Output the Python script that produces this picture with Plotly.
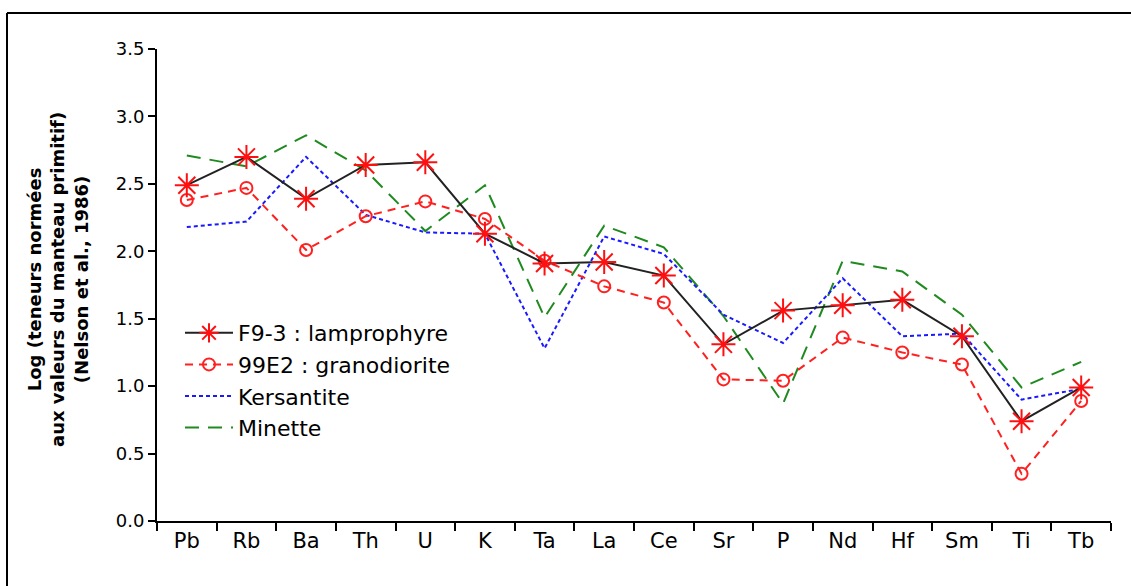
import plotly.graph_objects as go

elements = ["Pb", "Rb", "Ba", "Th", "U", "K", "Ta", "La", "Ce", "Sr", "P", "Nd", "Hf", "Sm", "Ti", "Tb"]

f93_lamprophyre = [2.49, 2.70, 2.39, 2.64, 2.66, 2.13, 1.91, 1.92, 1.82, 1.31, 1.56, 1.60, 1.64, 1.37, 0.74, 0.99]
e99_granodiorite = [2.38, 2.47, 2.01, 2.26, 2.37, 2.24, 1.93, 1.74, 1.62, 1.05, 1.04, 1.36, 1.25, 1.16, 0.35, 0.89]
kersantite = [2.18, 2.22, 2.70, 2.27, 2.14, 2.13, 1.28, 2.11, 1.98, 1.53, 1.32, 1.80, 1.37, 1.39, 0.90, 0.98]
minette = [2.71, 2.63, 2.86, 2.60, 2.15, 2.49, 1.51, 2.19, 2.03, 1.52, 0.87, 1.93, 1.85, 1.53, 0.99, 1.18]

y_ticks = [0.0, 0.5, 1.0, 1.5, 2.0, 2.5, 3.0, 3.5]

TXT_FONT = "DejaVu Sans, sans-serif"
NUM_FONT = "DejaVu Sans, sans-serif"

fig = go.Figure()

fig.add_trace(go.Scatter(
    x=elements, y=minette, name="Minette", mode="lines", legendgroup="d", legendrank=4,
    line=dict(color="#1f8a1f", width=2, dash="14px,9px"),
))
fig.add_trace(go.Scatter(
    x=elements, y=kersantite, name="Kersantite", mode="lines", legendgroup="c", legendrank=3,
    line=dict(color="#1a1aff", width=2, dash="4px,3px"),
))
fig.add_trace(go.Scatter(
    x=elements, y=e99_granodiorite, name="99E2 : granodiorite", mode="lines+markers",
    legendgroup="b", legendrank=2,
    line=dict(color="#ff2020", width=2, dash="8px,6px"),
    marker=dict(symbol="circle-open", size=12, color="#ff2020", line=dict(width=2)),
))
fig.add_trace(go.Scatter(
    x=elements, y=f93_lamprophyre, name="F9-3 : lamprophyre", mode="lines+markers",
    legendgroup="a", legendrank=1,
    line=dict(color="#222222", width=2),
    marker=dict(symbol="asterisk-open", size=20, color="#ff1010", line=dict(width=2, color="#ff1010")),
))

W, H = 1131, 586
L, R, T, B = 157, 20, 49, 65
pw, ph = W - L - R, H - T - B

def px_x(p):
    return (p - L) / pw

def px_y(p):
    return (H - B - p) / ph

fig.update_layout(
    width=W, height=H,
    margin=dict(l=L, r=R, t=T, b=B),
    paper_bgcolor="white", plot_bgcolor="white",
    showlegend=True,
    legend=dict(
        x=px_x(180), y=px_y(312), xanchor="left", yanchor="top",
        traceorder="grouped",
        font=dict(family=TXT_FONT, size=22, color="black"),
        bgcolor="rgba(255,255,255,0)", borderwidth=0,
        itemwidth=48, tracegroupgap=0,
    ),
    xaxis=dict(
        type="category", range=[-0.5, 15.5],
        showline=True, linecolor="black", linewidth=2,
        ticks="outside", tickson="boundaries", ticklen=8, tickwidth=2, tickcolor="black",
        showgrid=False, zeroline=False,
        tickfont=dict(family=TXT_FONT, size=21, color="black"),
    ),
    yaxis=dict(
        range=[0, 3.5],
        tickvals=y_ticks, tickformat=".1f",
        showline=True, linecolor="black", linewidth=2,
        ticks="outside", ticklen=7, tickwidth=2, tickcolor="black",
        showgrid=False, zeroline=False,
        tickfont=dict(family=NUM_FONT, size=18, color="black"),
    ),
    annotations=[dict(
        text="<b>Log (teneurs normées<br>aux valeurs du manteau primitif)<br>(Nelson et al., 1986)</b>",
        xref="paper", yref="paper", x=px_x(58), y=px_y(280),
        xanchor="center", yanchor="middle", textangle=-90, showarrow=False,
        font=dict(family=TXT_FONT, size=18, color="black"),
    )],
    shapes=[
        dict(type="line", xref="paper", yref="paper", x0=px_x(7), x1=px_x(W + 5),
             y0=px_y(13), y1=px_y(13), line=dict(color="black", width=2)),
        dict(type="line", xref="paper", yref="paper", x0=px_x(7), x1=px_x(7),
             y0=px_y(13), y1=px_y(H + 5), line=dict(color="black", width=2)),
    ],
)

fig.write_html("out.html", config={"displayModeBar": False},
               post_script="document.body.style.margin='0';")
